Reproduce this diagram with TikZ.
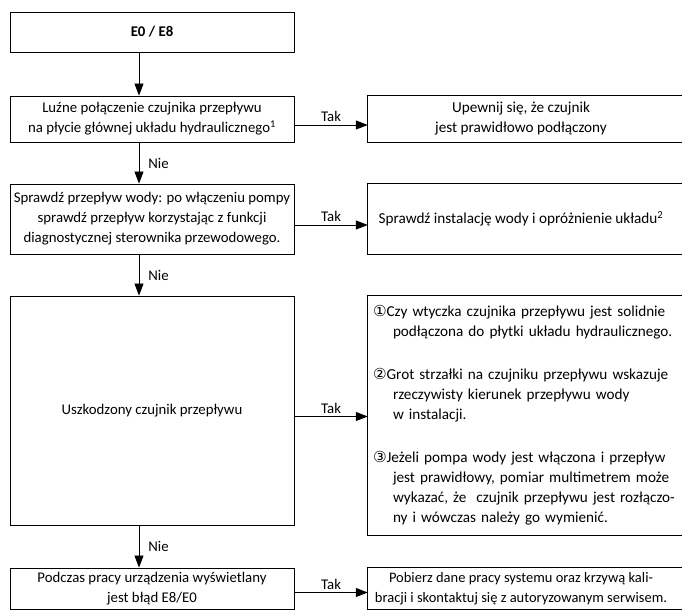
\documentclass[tikz,border=0pt]{standalone}
\usepackage{fontspec}
\setmainfont{Carlito}
\newfontfamily\numfont{DejaVu Sans}
\usetikzlibrary{arrows.meta,positioning}
\begin{document}
\begin{tikzpicture}[x=1pt,y=-1pt,
        box/.style={rectangle, draw, line width=0.9pt, minimum width=284pt, align=center, inner sep=3pt, font=\fontsize{14.8}{20}\selectfont},
        rbox/.style={rectangle, minimum width=306pt, align=center, inner sep=3pt, font=\fontsize{15.2}{20}\selectfont},
        arr/.style={line width=0.8pt, -{Triangle[length=12pt,width=9pt]}},
        lbl/.style={inner sep=3pt, font=\fontsize{14.8}{20}\selectfont}]
    \useasboundingbox (0,0) rectangle (682,611);

    \node[box, minimum height=40pt] (e08) at (152,32) {\textbf{E0 / E8}};
    \node[box, minimum height=46pt] (loose) at (152,119) {Luźne połączenie czujnika przepływu\\na płycie głównej układu hydraulicznego\textsuperscript{1}};
    \node[box, minimum height=70pt] (flow) at (152,219) {Sprawdź przepływ wody: po włączeniu pompy\\sprawdź przepływ korzystając z funkcji\\diagnostycznej sterownika przewodowego.};
    \node[box, minimum height=229pt] (sensor) at (152,410.5) {Uszkodzony czujnik przepływu};
    \node[box, minimum height=41pt] (shown) at (152,588.5) {Podczas pracy urządzenia wyświetlany\\jest błąd E8/E0};

    \node[rbox, minimum height=46pt] (fix) at (521,119) {Upewnij się, że czujnik\\jest prawidłowo podłączony};
    \node[rbox, minimum height=70pt] (install) at (521,219) {Sprawdź instalację wody i opróżnienie układu\textsuperscript{2}};
    \node[rbox, minimum height=239pt, text width=310pt, align=left, inner xsep=5pt] (checks) at (528,415.5) {%
        {\numfont ①}Czy wtyczka czujnika przepływu jest solidnie\\
        \hspace*{20pt}podłączona do płytki układu hydraulicznego.\\[23pt]
        {\numfont ②}Grot strzałki na czujniku przepływu wskazuje\\
        \hspace*{20pt}rzeczywisty kierunek przepływu wody\\
        \hspace*{20pt}w instalacji.\\[23pt]
        {\numfont ③}Jeżeli pompa wody jest włączona i przepływ\\
        \hspace*{20pt}jest prawidłowy, pomiar multimetrem może\\
        \hspace*{20pt}wykazać, że\ \ czujnik przepływu jest rozłączo-\\
        \hspace*{20pt}ny i wówczas należy go wymienić.};
    \node[rbox, minimum height=41pt, font=\fontsize{14.5}{20}\selectfont] (service) at (521,588.5) {Pobierz dane pracy systemu oraz krzywą kali-\\bracji i skontaktuj się z autoryzowanym serwisem.};

    \foreach \n in {fix,install,checks,service}
        \draw[line width=0.9pt] ([xshift=20pt]\n.north east) -- (\n.north west) -- (\n.south west) -- ([xshift=20pt]\n.south east);

    \draw[arr] ([xshift=-13pt]e08.south) -- ([xshift=-13pt]loose.north);
    \draw[arr] ([xshift=-13pt]loose.south) -- ([xshift=-13pt]flow.north) node[lbl, midway, right=6pt] {Nie};
    \draw[arr] ([xshift=-13pt]flow.south) -- ([xshift=-13pt]sensor.north) node[lbl, midway, right=6pt] {Nie};
    \draw[arr] ([xshift=-13pt]sensor.south) -- ([xshift=-13pt]shown.north) node[lbl, midway, right=6pt] {Nie};

    \draw[arr] ([yshift=-6pt]loose.east) -- ([yshift=-6pt]loose.east -| fix.west) node[lbl, midway, above] {Tak};
    \draw[arr] ([yshift=-6pt]flow.east) -- ([yshift=-6pt]flow.east -| install.west) node[lbl, midway, above] {Tak};
    \draw[arr] ([yshift=-6pt]sensor.east) -- ([yshift=-6pt]sensor.east -| checks.west) node[lbl, midway, above] {Tak};
    \draw[arr] ([yshift=-4pt]shown.east) -- ([yshift=-4pt]shown.east -| service.west) node[lbl, midway, above] {Tak};
\end{tikzpicture}
\end{document}
